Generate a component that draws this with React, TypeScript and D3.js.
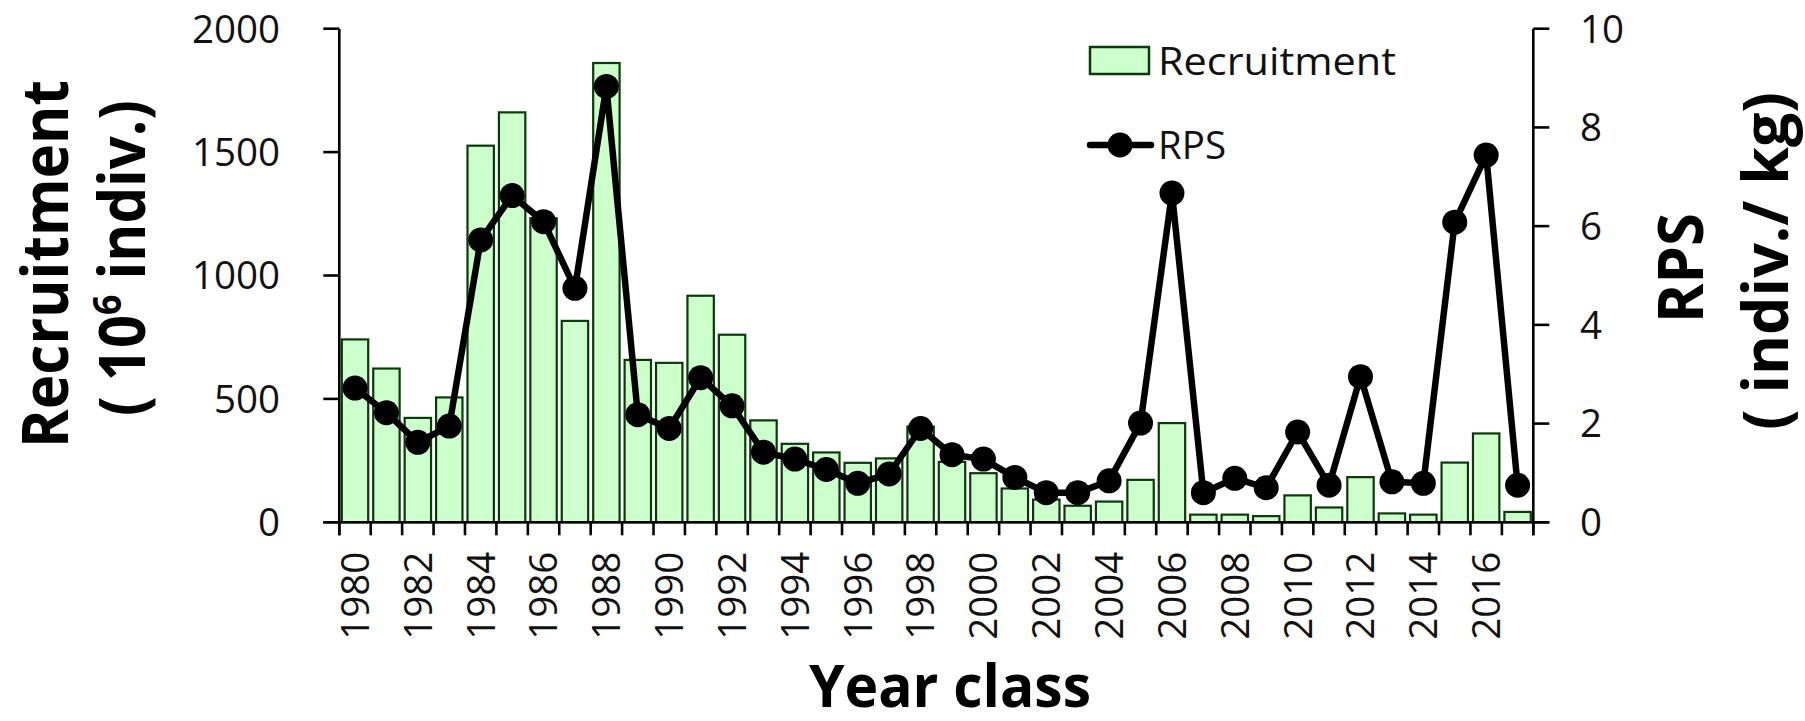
import React from "react";
import * as d3 from "d3";

const years = [
  1980, 1981, 1982, 1983, 1984, 1985, 1986, 1987, 1988, 1989,
  1990, 1991, 1992, 1993, 1994, 1995, 1996, 1997, 1998, 1999,
  2000, 2001, 2002, 2003, 2004, 2005, 2006, 2007, 2008, 2009,
  2010, 2011, 2012, 2013, 2014, 2015, 2016, 2017,
];

const recruitment = [
  741, 623, 423, 506, 1526, 1661, 1232, 816, 1861, 658,
  646, 918, 760, 413, 318, 283, 241, 259, 388, 245,
  199, 137, 92, 67, 84, 172, 402, 31, 31, 25,
  109, 60, 183, 36, 31, 242, 360, 42,
];

const rps = [
  2.72, 2.22, 1.62, 1.95, 5.72, 6.62, 6.09, 4.74, 8.83, 2.18,
  1.9, 2.93, 2.36, 1.42, 1.28, 1.07, 0.79, 0.98, 1.9, 1.37,
  1.28, 0.91, 0.6, 0.6, 0.84, 2.01, 6.67, 0.6, 0.89, 0.7,
  1.83, 0.75, 2.95, 0.82, 0.79, 6.08, 7.44, 0.75,
];

const leftTicks = [0, 500, 1000, 1500, 2000];
const rightTicks = [0, 2, 4, 6, 8, 10];
const labeledYears = [
  1980, 1982, 1984, 1986, 1988, 1990, 1992, 1994, 1996, 1998,
  2000, 2002, 2004, 2006, 2008, 2010, 2012, 2014, 2016,
];

const FONT = "'Open Sans', 'Noto Sans', sans-serif";

export default function App() {
  const W = 1805;
  const H = 721;
  const left = 339.3;
  const right = 1533.3;
  const top = 28.7;
  const bottom = 522.3;

  const x = d3
    .scaleBand<number>()
    .domain(years)
    .range([left, right])
    .paddingInner(0.16)
    .paddingOuter(0.08);
  const step = (right - left) / years.length;
  const yL = d3.scaleLinear().domain([0, 2000]).range([bottom, top]);
  const yR = d3.scaleLinear().domain([0, 10]).range([bottom, top]);

  const line = d3
    .line<number>()
    .x((_, i) => (x(years[i]) as number) + x.bandwidth() / 2)
    .y((d) => yR(d));

  const tickFont = 38.5;

  return (
    <svg
      width={W}
      height={H}
      style={{ position: "absolute", left: 0, top: 0, background: "#fff" }}
      fontFamily={FONT}
    >
      <rect x={0} y={0} width={W} height={H} fill="#fff" />
      {/* bars */}
      {recruitment.map((v, i) => (
        <rect
          key={"b" + i}
          x={x(years[i]) as number}
          y={yL(v)}
          width={x.bandwidth()}
          height={bottom - yL(v)}
          fill="#ccffcc"
          stroke="#0a3a0a"
          strokeWidth={2.2}
        />
      ))}

      {/* axes */}
      <line x1={left} x2={left} y1={top} y2={bottom + 13} stroke="#000" strokeWidth={2.6} />
      <line x1={right} x2={right} y1={top} y2={bottom + 13} stroke="#000" strokeWidth={2.6} />
      <line x1={left - 16} x2={right + 16} y1={bottom} y2={bottom} stroke="#000" strokeWidth={2.6} />
      {leftTicks.map((t) => (
        <g key={"lt" + t}>
          <line x1={left - 16} x2={left} y1={yL(t)} y2={yL(t)} stroke="#000" strokeWidth={2.6} />
          <text
            x={280}
            y={yL(t)}
            dy="0.36em"
            textAnchor="end"
            fontSize={tickFont}
            fill="#111"
          >
            {t}
          </text>
        </g>
      ))}
      {rightTicks.map((t) => (
        <g key={"rt" + t}>
          <line x1={right} x2={right + 16} y1={yR(t)} y2={yR(t)} stroke="#000" strokeWidth={2.6} />
          <text
            x={1580}
            y={yR(t)}
            dy="0.36em"
            textAnchor="start"
            fontSize={tickFont}
            fill="#111"
          >
            {t}
          </text>
        </g>
      ))}
      {d3.range(years.length + 1).map((i) => (
        <line
          key={"xt" + i}
          x1={left + i * step}
          x2={left + i * step}
          y1={bottom}
          y2={bottom + 13}
          stroke="#000"
          strokeWidth={2.6}
        />
      ))}
      {labeledYears.map((yr) => {
        const cx = (x(yr) as number) + x.bandwidth() / 2;
        return (
          <text
            key={"xl" + yr}
            transform={`translate(${cx},551.7) rotate(-90)`}
            dy="0.36em"
            textAnchor="end"
            fontSize={tickFont}
            fill="#111"
          >
            {yr}
          </text>
        );
      })}

      {/* RPS line */}
      <path d={line(rps) || ""} fill="none" stroke="#000" strokeWidth={6.5} strokeLinejoin="round" />
      {rps.map((v, i) => (
        <circle
          key={"c" + i}
          cx={(x(years[i]) as number) + x.bandwidth() / 2}
          cy={yR(v)}
          r={12.5}
          fill="#000"
        />
      ))}

      {/* legend */}
      <rect x={1090} y={47} width={59} height={27} fill="#ccffcc" stroke="#0a3a0a" strokeWidth={2.5} />
      <text x={1158} y={75} fontSize={38} textLength={238} lengthAdjust="spacingAndGlyphs" fill="#111">
        Recruitment
      </text>
      <line x1={1090} x2={1151} y1={145} y2={145} stroke="#000" strokeWidth={6.5} strokeLinecap="round" />
      <circle cx={1120} cy={145} r={12.5} fill="#000" />
      <text x={1158} y={159} fontSize={38} textLength={68} lengthAdjust="spacingAndGlyphs" fill="#111">
        RPS
      </text>

      {/* axis titles */}
      <text
        transform="translate(68,264) rotate(-90)"
        textAnchor="middle"
        fontSize={65}
        fontWeight="bold"
        textLength={368}
        lengthAdjust="spacingAndGlyphs"
        fill="#000"
      >
        Recruitment
      </text>
      <text
        transform="translate(145,258) rotate(-90)"
        textAnchor="middle"
        fontSize={65}
        fontWeight="bold"
        textLength={316}
        lengthAdjust="spacingAndGlyphs"
        fill="#000"
      >
        ( 10
        <tspan dy={-24} fontSize={40}>
          6
        </tspan>
        <tspan dy={24}> indiv.)</tspan>
      </text>
      <text
        transform="translate(1703,268) rotate(-90)"
        textAnchor="middle"
        fontSize={63}
        fontWeight="bold"
        textLength={110}
        lengthAdjust="spacingAndGlyphs"
        fill="#000"
      >
        RPS
      </text>
      <text
        transform="translate(1788,261) rotate(-90)"
        textAnchor="middle"
        fontSize={63}
        fontWeight="bold"
        textLength={338}
        lengthAdjust="spacingAndGlyphs"
        fill="#000"
      >
        ( indiv./ kg)
      </text>
      <text
        x={950}
        y={707}
        textAnchor="middle"
        fontSize={59}
        fontWeight="bold"
        textLength={282}
        lengthAdjust="spacingAndGlyphs"
        fill="#000"
      >
        Year class
      </text>
    </svg>
  );
}
